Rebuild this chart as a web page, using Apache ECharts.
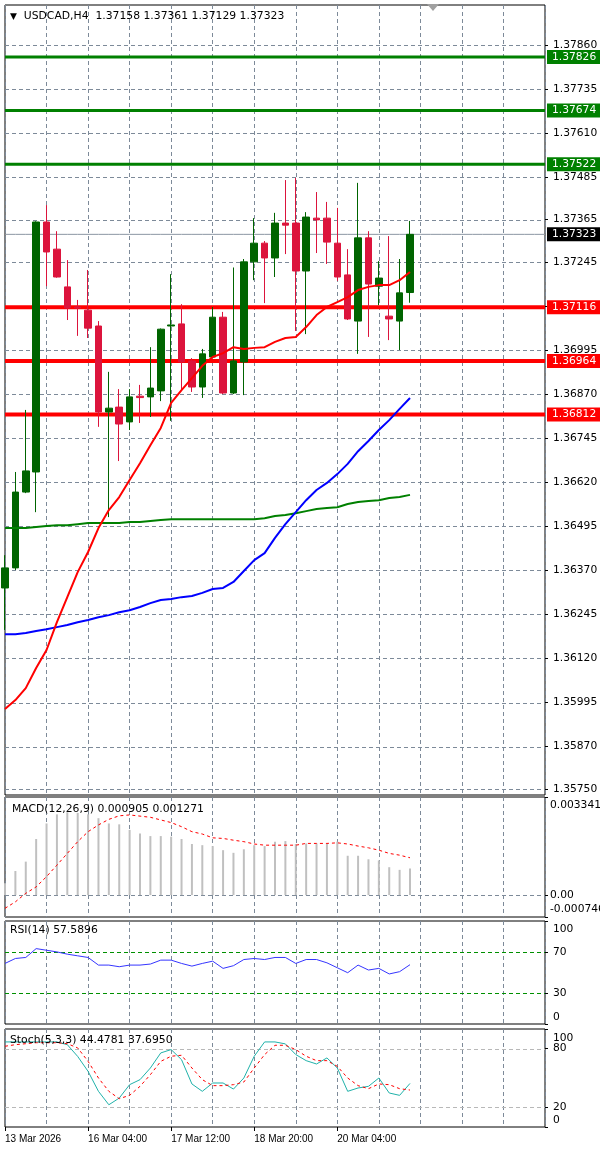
<!DOCTYPE html>
<html><head><meta charset="utf-8">
<script src="https://cdn.jsdelivr.net/npm/echarts@6/dist/echarts.min.js"></script>
<style>html,body{margin:0;padding:0;background:#fff}#c{width:600px;height:1149px}</style>
</head><body><div id="c"></div>
<script>
// ---------- DATA ----------
const candleOpen  = [1.36320,1.36377,1.36592,1.36649,1.37358,1.37281,1.37174,1.37117,1.37108,1.37063,1.36819,1.36833,1.36791,1.36864,1.36862,1.36879,1.37063,1.37069,1.36964,1.36890,1.36975,1.37088,1.36873,1.36961,1.37245,1.37298,1.37256,1.37355,1.37355,1.37219,1.37369,1.37369,1.37298,1.37208,1.37077,1.37313,1.37176,1.37091,1.37077,1.37158];
const candleClose = [1.36377,1.36592,1.36652,1.37358,1.37273,1.37202,1.37114,1.37114,1.37057,1.36819,1.36830,1.36785,1.36862,1.36860,1.36887,1.37054,1.37066,1.36961,1.36890,1.36984,1.37088,1.36873,1.36964,1.37245,1.37298,1.37256,1.37355,1.37349,1.37219,1.37372,1.37364,1.37301,1.37202,1.37083,1.37313,1.37182,1.37199,1.37083,1.37157,1.37323];
const candleHigh  = [1.36413,1.36649,1.36825,1.37360,1.37406,1.37332,1.37250,1.37137,1.37222,1.37077,1.36933,1.36884,1.36884,1.36896,1.37003,1.37056,1.37210,1.37125,1.36972,1.36998,1.37117,1.37103,1.37229,1.37253,1.37369,1.37304,1.37384,1.37477,1.37483,1.37386,1.37443,1.37415,1.37398,1.37281,1.37469,1.37332,1.37247,1.37318,1.37253,1.37361];
const candleLow   = [1.36201,1.36371,1.36589,1.36535,1.37176,1.37200,1.37080,1.37035,1.37029,1.36777,1.36521,1.36680,1.36768,1.36788,1.36805,1.36850,1.36794,1.36881,1.36876,1.36859,1.36972,1.36870,1.36870,1.36867,1.37193,1.37128,1.37202,1.37267,1.37049,1.37040,1.37270,1.37239,1.37191,1.37080,1.36984,1.37032,1.37122,1.37023,1.36995,1.37129];

const maRed   = [1.35977,1.36002,1.36036,1.36093,1.36144,1.36223,1.36294,1.36365,1.36422,1.36490,1.36541,1.36578,1.36626,1.36674,1.36725,1.36774,1.36845,1.36881,1.36915,1.36950,1.36975,1.36986,1.37003,1.36998,1.37001,1.37003,1.37018,1.37029,1.37032,1.37060,1.37094,1.37117,1.37131,1.37145,1.37165,1.37174,1.37179,1.37179,1.37193,1.37216];
const maBlue  = [1.36189,1.36189,1.36192,1.36198,1.36203,1.36209,1.36215,1.36223,1.36229,1.36237,1.36243,1.36251,1.36257,1.36266,1.36277,1.36286,1.36289,1.36294,1.36297,1.36306,1.36317,1.36320,1.36337,1.36368,1.36399,1.36419,1.36462,1.36501,1.36535,1.36569,1.36598,1.36618,1.36643,1.36672,1.36708,1.36737,1.36768,1.36796,1.36828,1.36859];
const maGreen = [1.36490,1.36490,1.36490,1.36493,1.36496,1.36498,1.36498,1.36501,1.36504,1.36504,1.36504,1.36504,1.36507,1.36507,1.36510,1.36513,1.36515,1.36515,1.36515,1.36515,1.36515,1.36515,1.36515,1.36515,1.36515,1.36518,1.36524,1.36527,1.36532,1.36538,1.36544,1.36547,1.36549,1.36558,1.36564,1.36567,1.36569,1.36575,1.36578,1.36584];

const levelsGreen = [1.37826,1.37674,1.37522];
const levelsRed   = [1.37116,1.36964,1.36812];

const macdHist   = [0.00040,0.00082,0.00114,0.00191,0.00244,0.00275,0.00282,0.00280,0.00275,0.00262,0.00244,0.00241,0.00222,0.00210,0.00201,0.00201,0.00199,0.00191,0.00174,0.00170,0.00167,0.00153,0.00144,0.00156,0.00170,0.00167,0.00182,0.00184,0.00174,0.00176,0.00176,0.00174,0.00182,0.00134,0.00134,0.00122,0.00118,0.00095,0.00086,0.000905];
const macdSignal = [-0.00045,-0.00023,0.00006,0.00028,0.00063,0.00102,0.00142,0.00182,0.00216,0.00239,0.00258,0.00270,0.00273,0.00269,0.00265,0.00256,0.00247,0.00233,0.00216,0.00208,0.00195,0.00193,0.00187,0.00182,0.00174,0.00170,0.00170,0.00170,0.00170,0.00176,0.00176,0.00176,0.00178,0.00174,0.00167,0.00161,0.00153,0.00142,0.00136,0.001271];

const rsi = [58.8,63.6,64.6,73.2,71.6,70.0,67.8,66.2,64.6,57.2,57.2,55.6,57.2,57.2,58.2,62.0,62.0,58.8,56.2,58.8,61.0,54.0,56.6,62.6,63.6,62.6,64.6,64.6,58.8,62.6,62.6,59.4,54.6,49.8,57.2,52.4,54.0,48.6,50.8,57.5896];
const stochK = [86.8,86.8,86.8,86.8,86.8,86.8,84.0,72.0,56.8,36.4,22.7,29.5,43.2,48.3,60.2,75.6,79.0,68.7,43.9,36.4,44.9,44.9,38.7,50.0,72.2,86.8,86.8,84.8,73.9,67.7,64.3,70.5,60.2,36.4,39.8,41.5,50.0,34.7,32.3,44.4781];
const stochD = [82.4,84.0,85.0,86.0,86.0,86.0,85.0,80.7,67.0,50.0,36.4,28.9,32.3,41.5,53.4,67.0,72.2,73.2,60.2,48.3,42.2,42.2,43.2,45.9,60.2,73.9,83.4,83.4,79.0,72.2,67.7,67.7,61.9,50.0,42.2,39.1,43.9,43.2,39.1,37.6950];

const priceTicks = [1.37860,1.37735,1.37610,1.37485,1.37365,1.37245,1.37120,1.36995,1.36870,1.36745,1.36620,1.36495,1.36370,1.36245,1.36120,1.35995,1.35870,1.35750];
const priceRange = [1.357328, 1.379735];
const macdRange = [-0.000746, 0.003341];
const macdTicks = [0.003341, 0, -0.000746];
const macdLabelPos = [0.003069, 0, -0.000474];   // edge labels sit just inside the panel
const macdLabels = ['0.003341','0.00','-0.000746'];
const rsiTicks = [100,70,30,0];
const rsiLabelPos = [92.2,70,30,6.8];
const rsiLabels = ['100','70','30','0'];
const rsiLevels = [70,30];
const stochTicks = [100,80,20,0];
const stochLabelPos = [90.8,80,20,7.1];
const stochLabels = ['100','80','20','0'];
const stochLevels = [80,20];
const xLabelIdx = [0,8,16,24,32];
const xLabels = ['13 Mar 2026','16 Mar 04:00','17 Mar 12:00','18 Mar 20:00','20 Mar 04:00'];
const slotCount = 53; // visible bar slots on the time axis

// ---------- CHART ----------
const cats = Array.from({length: slotCount}, (_, i) => String(i));
const F = 'DejaVu Sans';
const AXF = 10.7;
const gridC = '#7d8a99';
const dash = [4,3];
const last = candleClose.length - 1;
const f5 = v => v.toFixed(5);

function xAx(i, bottom) {
  const show = (idx) => xLabelIdx.indexOf(idx) >= 0;
  return {
    type: 'category', gridIndex: i, data: cats, boundaryGap: false,
    axisLine: {show: false},
    axisTick: bottom ? {show: true, interval: show, length: 4, lineStyle: {color: '#000'}} : {show: false},
    axisLabel: bottom ? {show: true, interval: show, align: 'left', margin: 7,
      formatter: (v) => { const k = xLabelIdx.indexOf(Number(v)); return k >= 0 ? xLabels[k] : ''; },
      fontFamily: 'Liberation Sans', fontSize: 10, color: '#000'} : {show: false},
    splitLine: {show: true, interval: 3, lineStyle: {color: gridC, type: dash, width: 1}}
  };
}
function yAx(i, min, max, ticks, labelPos, labels, margin, showTicks) {
  return {
    type: 'value', gridIndex: i, position: 'right', min: min, max: max,
    splitLine: {show: false}, axisLine: {show: false},
    axisTick: {show: showTicks, customValues: ticks, length: 3, lineStyle: {color: '#000'}},
    axisLabel: {customValues: labelPos, showMinLabel: true, showMaxLabel: true, hideOverlap: false,
      fontFamily: F, fontSize: AXF, color: '#000', margin: margin,
      formatter: v => {
        const k = labelPos.findIndex(t => Math.abs(t - v) < 1e-9);
        return k >= 0 ? labels[k] : '';
      }}
  };
}
// indicator panel axes: inner labels on the main axis, the two edge labels on a twin axis
function panelAxes(i, min, max, ticks, labelPos, labels, margin) {
  const n = labelPos.length;
  const inner = yAx(i, min, max, ticks, labelPos.slice(1, n - 1), labels.slice(1, n - 1), margin, true);
  const edge = yAx(i, min, max, ticks, [labelPos[0], labelPos[n - 1]], [labels[0], labels[n - 1]], margin, false);
  return [inner, edge];
}
// horizontal level line drawn as a flat series with a price tag at the right edge
function levelSeries(v, color, width, bg, z) {
  return {type: 'line', xAxisIndex: 0, yAxisIndex: 0, data: cats.map(() => v), showSymbol: false,
    silent: true, clip: false, z: z, lineStyle: {color: color, width: width},
    endLabel: {show: true, formatter: () => f5(v), distance: 2, backgroundColor: bg, color: '#fff',
      padding: [2,6,1,5], fontFamily: F, fontSize: AXF}};
}
function gridLines(xi, yi, vals, color, z) {
  return {type: 'custom', xAxisIndex: xi, yAxisIndex: yi, data: vals.map(v => [0, v]), silent: true, z: z,
    renderItem: (params, api) => {
      const y = Math.round(api.coord([0, api.value(1)])[1]) + 0.5;
      const cs = params.coordSys;
      return {type: 'line', shape: {x1: cs.x, y1: y, x2: cs.x + cs.width, y2: y},
        style: {stroke: color, lineDash: dash, lineWidth: 1}};
    }};
}
function gridBox(top, height) {
  return {left: 5, top: top, width: 540, height: height, outerBoundsMode: 'none', containLabel: false,
    show: true, borderColor: '#000', borderWidth: 1, backgroundColor: '#fff'};
}

const macdAxes = panelAxes(1, macdRange[0], macdRange[1], macdTicks, macdLabelPos, macdLabels, 5);
const rsiAxes = panelAxes(2, 0, 100, rsiTicks, rsiLabelPos, rsiLabels, 8);
const stochAxes = panelAxes(3, 0, 100, stochTicks, stochLabelPos, stochLabels, 8);

const titleStyle = {fontFamily: F, fontSize: 10.8, fontWeight: 'normal', color: '#000'};
const option = {
  animation: false,
  backgroundColor: '#fff',
  title: [
    {text: '{a|▼}  USDCAD,H4  ' + [candleOpen[last], candleHigh[last], candleLow[last], candleClose[last]].map(f5).join(' '),
     left: 10, top: 11, padding: 0, textStyle: Object.assign({rich: {a: {fontSize: 9, color: '#000'}}}, titleStyle)},
    {text: 'MACD(12,26,9) ' + macdHist[last].toFixed(6) + ' ' + macdSignal[last].toFixed(6),
     left: 12, top: 804, padding: 0, textStyle: titleStyle},
    {text: 'RSI(14) ' + rsi[last].toFixed(4), left: 10, top: 925, padding: 0, textStyle: titleStyle},
    {text: 'Stoch(5,3,3) ' + stochK[last].toFixed(4) + ' ' + stochD[last].toFixed(4),
     left: 10, top: 1035, padding: 0, textStyle: titleStyle}
  ],
  graphic: [{type: 'polygon', shape: {points: [[427,4],[439,4],[433,11]]}, style: {fill: '#a0a0a0'}, silent: true}],
  grid: [gridBox(5, 790), gridBox(797, 120), gridBox(921, 103), gridBox(1029, 98)],
  xAxis: [xAx(0,false), xAx(1,false), xAx(2,false), xAx(3,true)],
  yAxis: [
    yAx(0, priceRange[0], priceRange[1], priceTicks, priceTicks, priceTicks.map(f5), 8, true),
    macdAxes[0], rsiAxes[0], stochAxes[0],
    macdAxes[1], rsiAxes[1], stochAxes[1]
  ],
  series: [
    gridLines(0, 0, priceTicks, gridC, 1),
    ...levelsGreen.map(v => levelSeries(v, '#008000', 3, '#008000', 2)),
    ...levelsRed.map(v => levelSeries(v, '#ff0000', 4, '#ff0000', 2)),
    levelSeries(candleClose[last], '#8c97a3', 1, '#000000', 2),
    {type: 'candlestick', xAxisIndex: 0, yAxisIndex: 0, z: 3, barWidth: 7,
     data: candleOpen.map((o, i) => [o, candleClose[i], candleLow[i], candleHigh[i]]),
     itemStyle: {color: '#006400', color0: '#dc143c', borderColor: '#006400', borderColor0: '#dc143c', borderWidth: 1}},
    {type: 'line', xAxisIndex: 0, yAxisIndex: 0, data: maGreen, showSymbol: false, z: 4, lineStyle: {color: '#008000', width: 2}},
    {type: 'line', xAxisIndex: 0, yAxisIndex: 0, data: maBlue, showSymbol: false, z: 4, lineStyle: {color: '#0000ff', width: 2}},
    {type: 'line', xAxisIndex: 0, yAxisIndex: 0, data: maRed, showSymbol: false, z: 4, lineStyle: {color: '#ff0000', width: 2}},

    gridLines(1, 1, [0], gridC, 1),
    {type: 'bar', xAxisIndex: 1, yAxisIndex: 1, data: macdHist, barWidth: 2, z: 2, itemStyle: {color: '#c0c0c0'}},
    {type: 'line', xAxisIndex: 1, yAxisIndex: 1, data: macdSignal, showSymbol: false, z: 4,
     lineStyle: {color: '#ff0000', width: 1, type: [3,3]}},

    gridLines(2, 2, rsiLevels, '#009000', 1),
    {type: 'line', xAxisIndex: 2, yAxisIndex: 2, data: rsi, showSymbol: false, z: 4,
     lineStyle: {color: '#3535ff', width: 1}},

    gridLines(3, 3, stochLevels, '#b8b8b8', 1),
    {type: 'line', xAxisIndex: 3, yAxisIndex: 3, data: stochK, showSymbol: false, z: 4,
     lineStyle: {color: '#20b2aa', width: 1}},
    {type: 'line', xAxisIndex: 3, yAxisIndex: 3, data: stochD, showSymbol: false, z: 4,
     lineStyle: {color: '#ff0000', width: 1, type: [3,3]}}
  ]
};
const chart = echarts.init(document.getElementById('c'), null, {renderer: 'canvas'});
chart.setOption(option);
</script></body></html>
